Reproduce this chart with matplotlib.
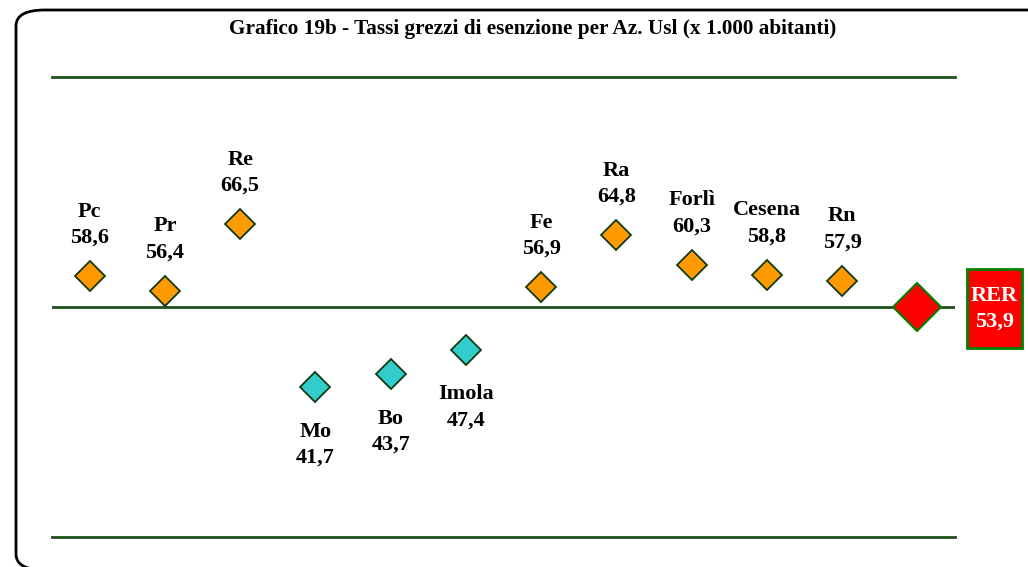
import matplotlib.pyplot as plt
from matplotlib.patches import FancyBboxPatch, Rectangle

# data
aziende = ['Pc', 'Pr', 'Re', 'Mo', 'Bo', 'Imola', 'Fe', 'Ra', 'Forlì', 'Cesena', 'Rn']
tassi = [58.6, 56.4, 66.5, 41.7, 43.7, 47.4, 56.9, 64.8, 60.3, 58.8, 57.9]
rer_label = 'RER'
rer_valore = 53.9

plt.rcParams['font.family'] = ['Liberation Serif', 'DejaVu Serif']

W, H = 1028, 567
fig = plt.figure(figsize=(W / 100, H / 100), dpi=100)

# rounded outer frame (right side runs off the picture like the original)
frame = FancyBboxPatch((16 / W, -3 / H), 1080 / W, 560 / H,
                       boxstyle='round,pad=0,rounding_size=0.028',
                       transform=fig.transFigure, fill=False,
                       edgecolor='black', linewidth=2, clip_on=False)
fig.patches.append(frame)

fig.text(533 / W, 1 - 29 / H,
         'Grafico 19b - Tassi grezzi di esenzione per Az. Usl (x 1.000 abitanti)',
         ha='center', va='center', fontsize=15.3, fontweight='bold')

ax = fig.add_axes([52 / W, 30 / H, 903 / W, 460 / H])
ax.set_xlim(-0.5, 11.5)
ax.set_ylim(rer_valore - 35, rer_valore + 35)
ax.axis('off')

# reference lines
for yv in (rer_valore - 35, rer_valore + 35):
    ax.axhline(yv, color='#1e4f1e', lw=2, clip_on=False)
ax.axhline(rer_valore, color='#1e4f1e', lw=2, zorder=1)

xs = list(range(len(aziende)))
for x, nome, v in zip(xs, aziende, tassi):
    col = '#ff9900' if v > rer_valore else '#33cccc'
    ax.plot(x, v, 'D', ms=15, mfc=col, mec='#0f3a0f', mew=1.3, zorder=3)
    lbl = nome + '\n' + f'{v:.1f}'.replace('.', ',')
    if v > rer_valore:
        ax.annotate(lbl, (x, v), xytext=(0, 20.5), textcoords='offset points',
                    ha='center', va='bottom', fontsize=16, fontweight='bold',
                    linespacing=1.4)
    else:
        ax.annotate(lbl, (x, v), xytext=(0, -25), textcoords='offset points',
                    ha='center', va='top', fontsize=16, fontweight='bold',
                    linespacing=1.4)

# regional mean
ax.plot(len(aziende), rer_valore, 'D', ms=24, mfc='#ff0000', mec='#008000',
        mew=1.5, zorder=3, clip_on=False)
fig.patches.append(Rectangle((967 / W, 1 - 348 / H), 55 / W, 79 / H,
                             transform=fig.transFigure, fc='#ff0000',
                             ec='#008000', lw=2))
fig.text(994.5 / W, 1 - 308.5 / H,
         rer_label + '\n' + f'{rer_valore:.1f}'.replace('.', ','),
         ha='center', va='center', color='white', fontsize=16,
         fontweight='bold', linespacing=1.4)

fig.savefig('out.png', dpi=100)
